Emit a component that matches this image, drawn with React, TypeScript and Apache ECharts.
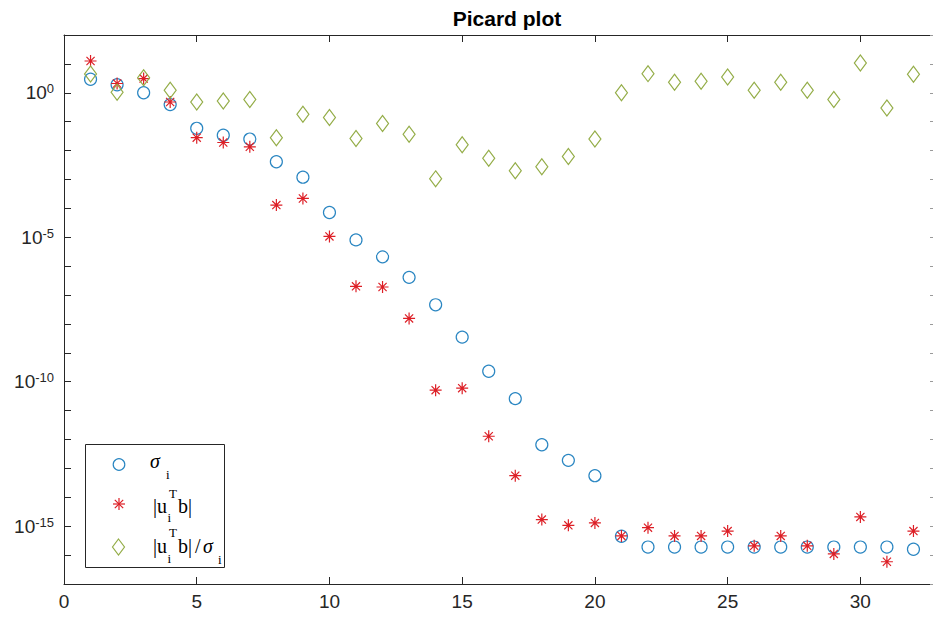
import React, { useEffect, useRef } from "react";
import * as echarts from "echarts";

// ---- data ----
const indices = [1, 2, 3, 4, 5, 6, 7, 8, 9, 10, 11, 12, 13, 14, 15, 16, 17, 18, 19, 20, 21, 22, 23, 24, 25, 26, 27, 28, 29, 30, 31, 32];

const sigma = [
  2.95, 1.9, 1.0, 0.39, 0.059, 0.034, 0.025, 4.1e-3, 1.2e-3, 7.2e-5,
  8.1e-6, 2.1e-6, 4.1e-7, 4.6e-8, 3.5e-9, 2.3e-10, 2.6e-11, 6.6e-13, 1.9e-13, 5.6e-14,
  4.5e-16, 1.9e-16, 1.9e-16, 1.9e-16, 1.9e-16, 1.9e-16, 1.9e-16, 1.9e-16, 1.9e-16, 1.9e-16,
  1.9e-16, 1.6e-16,
];

const utb = [
  12.6, 2.1, 3.1, 0.48, 0.028, 0.019, 0.0135, 1.3e-4, 2.2e-4, 1.07e-5,
  2.0e-7, 1.9e-7, 1.55e-8, 5.1e-11, 6.0e-11, 1.3e-12, 5.6e-14, 1.7e-15, 1.07e-15, 1.3e-15,
  4.6e-16, 8.9e-16, 4.6e-16, 4.6e-16, 6.8e-16, 2.1e-16, 4.6e-16, 2.1e-16, 1.1e-16, 2.1e-15,
  5.9e-17, 6.8e-16,
];

const ratio = [
  4.5, 1.05, 3.3, 1.23, 0.48, 0.52, 0.59, 0.028, 0.18, 0.14,
  0.026, 0.087, 0.037, 1.05e-3, 0.016, 5.4e-3, 2.0e-3, 2.75e-3, 6.2e-3, 0.025,
  1.0, 4.6, 2.3, 2.5, 3.5, 1.23, 2.3, 1.23, 0.59, 10.7,
  0.30, 4.4,
];

const xTickLabels = [0, 5, 10, 15, 20, 25, 30];
const yLabelExponents = [0, -5, -10, -15];
const titleText = "Picard plot";

// ---- styles ----
const AXIS = "#262626";
const C_SIGMA = "#2a86c2";
const C_UTB = "#dd1f26";
const C_RATIO = "#94ad48";
const SANS = "Liberation Sans, Arial, Helvetica, sans-serif";
const SERIF = "Liberation Serif, Times New Roman, serif";
const STAR = "path://M5 0L5 10M0 5L10 5M1.6 1.6L8.4 8.4M8.4 1.6L1.6 8.4";

function txt(text: string, x: number, baseline: number, size: number, italic = false) {
  return {
    type: "text",
    x,
    y: baseline - 0.34 * size,
    silent: true,
    z: 102,
    style: {
      text,
      fill: "#000000",
      font: `${italic ? "italic " : ""}${size}px ${SERIF}`,
      verticalAlign: "middle",
      align: "left",
    },
  };
}

export default function App() {
  const ref = useRef<HTMLDivElement>(null);

  useEffect(() => {
    const chart = echarts.init(ref.current!, null, { renderer: "svg" });
    const pts = (vals: number[]) => indices.map((x, i) => [x, vals[i]]);

    const yLabelFormatter = (v: number) => {
      const e = Math.round(Math.log10(v));
      return yLabelExponents.includes(e) ? `{b|10}{s|${e}}` : "";
    };

    const starLines = [
      [0, -6, 0, 6],
      [-6, 0, 6, 0],
      [-4.2, -4.2, 4.2, 4.2],
      [4.2, -4.2, -4.2, 4.2],
    ].map(([x1, y1, x2, y2]) => ({
      type: "line",
      shape: { x1: 119 + x1, y1: 504 + y1, x2: 119 + x2, y2: 504 + y2 },
      style: { stroke: C_UTB, lineWidth: 1.2 },
      z: 102,
      silent: true,
    }));

    const legendGraphics: any[] = [
      {
        type: "rect",
        shape: { x: 85.5, y: 444.5, width: 139, height: 123 },
        style: { fill: "#ffffff", stroke: AXIS, lineWidth: 1 },
        z: 100,
        silent: true,
      },
      {
        type: "circle",
        shape: { cx: 119, cy: 464.5, r: 5.8 },
        style: { fill: "none", stroke: C_SIGMA, lineWidth: 1.2 },
        z: 102,
        silent: true,
      },
      ...starLines,
      {
        type: "polygon",
        shape: { points: [[118.5, 539], [124.5, 547], [118.5, 555], [112.5, 547]] },
        style: { fill: "none", stroke: C_RATIO, lineWidth: 1.2 },
        z: 102,
        silent: true,
      },
      // row 1: sigma_i
      txt("σ", 150, 468, 20, true),
      txt("i", 166, 479, 13),
      // row 2: |u_i^T b|
      txt("|u", 153, 513, 20),
      txt("T", 169, 498, 13),
      txt("i", 167.5, 522, 13),
      txt("b|", 178, 513, 20),
      // row 3: |u_i^T b|/sigma_i
      txt("|u", 153, 553, 20),
      txt("T", 169, 537, 13),
      txt("i", 167.5, 563, 13),
      txt("b|", 178, 553, 20),
      txt("/", 195, 553, 20),
      txt("σ", 203, 553, 20, true),
      txt("i", 218, 564, 13),
    ];

    const axisCommon = {
      axisLine: { show: true, onZero: false, lineStyle: { color: AXIS, width: 1 } },
      splitLine: { show: false },
    };

    chart.setOption({
      animation: false,
      backgroundColor: "#ffffff",
      title: {
        text: titleText,
        left: 502,
        textAlign: "center",
        top: 3,
        textStyle: { fontFamily: SANS, fontWeight: "bold", fontSize: 21, color: "#000000" },
      },
      grid: { left: 64, right: 1, top: 35, bottom: 35, containLabel: false },
      xAxis: [
        {
          type: "value",
          position: "bottom",
          min: 0,
          max: 33,
          interval: 5,
          ...axisCommon,
          axisTick: { show: true, inside: true, length: 7, lineStyle: { color: AXIS } },
          axisLabel: {
            color: AXIS,
            fontFamily: SANS,
            fontSize: 19,
            margin: 8,
            formatter: (v: number) => (xTickLabels.includes(v) ? String(v) : ""),
          },
        },
        {
          type: "value",
          position: "top",
          min: 0,
          max: 33,
          interval: 5,
          ...axisCommon,
          axisTick: { show: true, inside: true, length: 7, lineStyle: { color: AXIS } },
          axisLabel: { show: false },
        },
      ],
      yAxis: [
        {
          type: "log",
          logBase: 10,
          position: "left",
          min: 1e-17,
          max: 1e2,
          interval: 1,
          ...axisCommon,
          axisTick: { show: true, inside: true, length: 7, interval: 0, lineStyle: { color: AXIS } },
          axisLabel: {
            interval: 0,
            margin: 10,
            color: AXIS,
            fontFamily: SANS,
            formatter: yLabelFormatter,
            rich: {
              b: { fontSize: 19, fontFamily: SANS, color: AXIS, lineHeight: 21 },
              s: { fontSize: 13, fontFamily: SANS, color: AXIS, verticalAlign: "top", lineHeight: 13 },
            },
          },
        },
        {
          type: "log",
          logBase: 10,
          position: "right",
          min: 1e-17,
          max: 1e2,
          interval: 1,
          ...axisCommon,
          axisTick: { show: true, inside: true, length: 10, interval: 0, lineStyle: { color: "#9a9a9a" } },
          axisLabel: { show: false },
        },
      ],
      series: [
        {
          name: "σ_i",
          type: "scatter",
          xAxisIndex: 0,
          yAxisIndex: 0,
          data: pts(sigma),
          symbol: "circle",
          symbolSize: 12,
          itemStyle: { color: "rgba(0,0,0,0)", borderColor: C_SIGMA, borderWidth: 1.2, opacity: 1 },
          z: 3,
        },
        {
          name: "|u_i^T b|",
          type: "scatter",
          xAxisIndex: 0,
          yAxisIndex: 0,
          data: pts(utb),
          symbol: STAR,
          symbolSize: 12,
          itemStyle: { color: "rgba(0,0,0,0)", borderColor: C_UTB, borderWidth: 1.2, opacity: 1 },
          z: 4,
        },
        {
          name: "|u_i^T b|/σ_i",
          type: "scatter",
          xAxisIndex: 0,
          yAxisIndex: 0,
          data: pts(ratio),
          symbol: "diamond",
          symbolSize: [12, 16],
          itemStyle: { color: "rgba(0,0,0,0)", borderColor: C_RATIO, borderWidth: 1.2, opacity: 1 },
          z: 5,
        },
      ],
      graphic: legendGraphics,
    });

    return () => chart.dispose();
  }, []);

  return (
    <div
      ref={ref}
      style={{ position: "fixed", left: 0, top: 0, width: 943, height: 619, background: "#ffffff" }}
    />
  );
}
